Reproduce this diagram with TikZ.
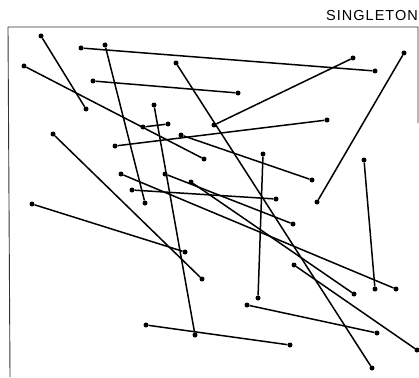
\documentclass[tikz,border=0pt]{standalone}
\usepackage{fontspec}
\newfontfamily\labelfont[LetterSpace=7]{Liberation Sans}

\begin{document}
\begin{tikzpicture}[
  x=1pt, y=-1pt,
  dot/.style={circle, fill=black, inner sep=0pt, minimum size=5pt},
  seg/.style={draw=black, line width=1.5pt},
  frame/.style={draw=black!80, line width=0.9pt}
]
  \useasboundingbox (0,0) rectangle (419,377);

  % Frame
  \coordinate (fr) at (418,123);
  \coordinate (ftr) at (418,27);
  \coordinate (ftl) at (8,27);
  \coordinate (fbl) at (10,377);
  \draw[frame] (fr) -- (ftr) -- (ftl) -- (fbl);

  % Title
  \node[font=\labelfont\fontsize{14.5}{16}\selectfont, text=black] (title) at (372,16) {SINGLETON};

  % Endpoints
  \node[dot] (a1) at (41,36) {};   \node[dot] (a2) at (86,109) {};
  \node[dot] (b1) at (81,48) {};   \node[dot] (b2) at (375,71) {};
  \node[dot] (c1) at (105,45) {};  \node[dot] (c2) at (145,203) {};
  \node[dot] (d1) at (154,105) {}; \node[dot] (d2) at (195,335) {};
  \node[dot] (e1) at (181,135) {}; \node[dot] (e2) at (312,180) {};
  \node[dot] (f1) at (115,146) {}; \node[dot] (f2) at (327,120) {};
  \node[dot] (g1) at (24,66) {};   \node[dot] (g2) at (204,159) {};
  \node[dot] (h1) at (93,81) {};   \node[dot] (h2) at (238,93) {};
  \node[dot] (i1) at (176,63) {};  \node[dot] (i2) at (372,368) {};
  \node[dot] (j1) at (143,127) {}; \node[dot] (j2) at (168,124) {};
  \node[dot] (k1) at (53,134) {};  \node[dot] (k2) at (202,279) {};
  \node[dot] (l1) at (263,154) {}; \node[dot] (l2) at (258,298) {};
  \node[dot] (m1) at (132,190) {}; \node[dot] (m2) at (276,199) {};
  \node[dot] (n1) at (165,174) {}; \node[dot] (n2) at (293,224) {};
  \node[dot] (o1) at (121,174) {}; \node[dot] (o2) at (396,289) {};
  \node[dot] (p1) at (191,182) {}; \node[dot] (p2) at (354,294) {};
  \node[dot] (q1) at (364,160) {}; \node[dot] (q2) at (375,289) {};
  \node[dot] (r1) at (404,53) {};  \node[dot] (r2) at (317,202) {};
  \node[dot] (s1) at (294,265) {}; \node[dot] (s2) at (417,350) {};
  \node[dot] (t1) at (247,305) {}; \node[dot] (t2) at (377,333) {};
  \node[dot] (u1) at (146,325) {}; \node[dot] (u2) at (290,345) {};
  \node[dot] (v1) at (214,125) {}; \node[dot] (v2) at (353,58) {};
  \node[dot] (w1) at (32,204) {};  \node[dot] (w2) at (185,252) {};

  % Segments
  \path[seg] (a1) -- (a2);
  \path[seg] (b1) -- (b2);
  \path[seg] (c1) -- (c2);
  \path[seg] (d1) -- (d2);
  \path[seg] (e1) -- (e2);
  \path[seg] (f1) -- (f2);
  \path[seg] (g1) -- (g2);
  \path[seg] (h1) -- (h2);
  \path[seg] (i1) -- (i2);
  \path[seg] (j1) -- (j2);
  \path[seg] (k1) -- (k2);
  \path[seg] (l1) -- (l2);
  \path[seg] (m1) -- (m2);
  \path[seg] (n1) -- (n2);
  \path[seg] (o1) -- (o2);
  \path[seg] (p1) -- (p2);
  \path[seg] (q1) -- (q2);
  \path[seg] (r1) -- (r2);
  \path[seg] (s1) -- (s2);
  \path[seg] (t1) -- (t2);
  \path[seg] (u1) -- (u2);
  \path[seg] (v1) -- (v2);
  \path[seg] (w1) -- (w2);

\end{tikzpicture}
\end{document}
